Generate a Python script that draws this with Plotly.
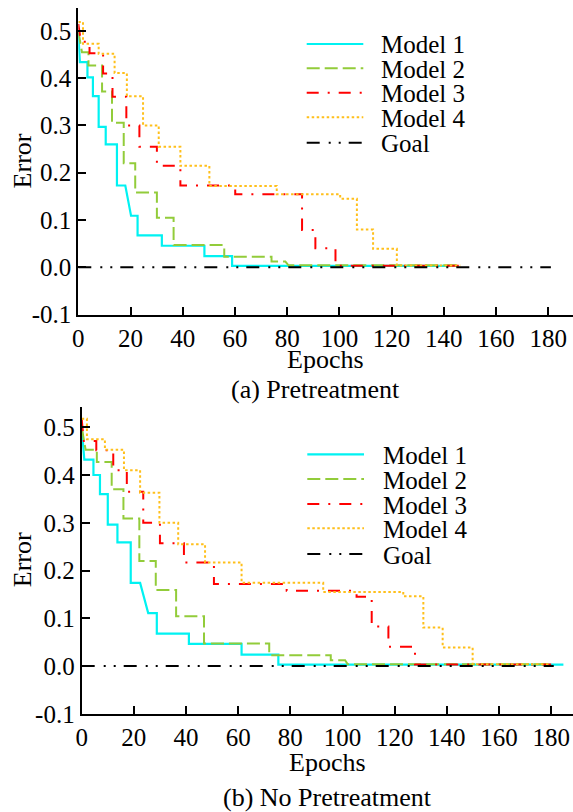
import plotly.graph_objects as go

# ---------------- data ----------------
epoch_ticks = [0, 20, 40, 60, 80, 100, 120, 140, 160, 180]
error_ticks = [-0.1, 0.0, 0.1, 0.2, 0.3, 0.4, 0.5]
error_tick_text = ["-0.1", "0.0", "0.1", "0.2", "0.3", "0.4", "0.5"]
series_names = ["Model 1", "Model 2", "Model 3", "Model 4", "Goal"]

# (a) Pretreatment
a_m1_x = [0, 0.6, 3.5, 3.5, 5.6, 5.6, 7.8, 7.8, 10.5, 10.5, 14.8, 14.8, 18.0, 20.2, 22.7, 22.7, 32.0, 32.0, 48.3, 48.3, 58.9, 58.9, 145]
a_m1_y = [0.495, 0.434, 0.434, 0.402, 0.402, 0.362, 0.362, 0.297, 0.297, 0.260, 0.260, 0.173, 0.173, 0.109, 0.109, 0.0675, 0.0675, 0.0455, 0.0455, 0.0235, 0.0235, 0.003, 0.003]

a_m2_x = [0, 1.4, 3.9, 3.9, 9.1, 9.1, 12.9, 12.9, 17.4, 17.4, 21.8, 21.8, 30.1, 30.1, 36.5, 36.5, 55.9, 55.9, 74.0, 74.0, 79.3, 80.5, 145]
a_m2_y = [0.50, 0.455, 0.455, 0.427, 0.427, 0.372, 0.372, 0.306, 0.306, 0.220, 0.220, 0.158, 0.158, 0.105, 0.105, 0.047, 0.047, 0.022, 0.022, 0.012, 0.012, 0.004, 0.004]

a_m3_x = [0, 1.0, 4.3, 4.3, 9.5, 9.5, 13.1, 13.1, 18.4, 18.4, 23.4, 23.4, 30.1, 30.1, 39.1, 39.1, 60.1, 60.1, 85.7, 85.7, 90.8, 90.8, 98.5, 98.5, 148]
a_m3_y = [0.515, 0.477, 0.477, 0.453, 0.453, 0.410, 0.410, 0.361, 0.361, 0.300, 0.300, 0.255, 0.255, 0.2146, 0.2146, 0.1728, 0.1728, 0.1545, 0.1545, 0.079, 0.079, 0.040, 0.040, 0.003, 0.003]

a_m4_x = [0, 1.8, 1.8, 7.8, 7.8, 13.9, 13.9, 18.6, 18.6, 24.8, 24.8, 30.8, 30.8, 39.1, 39.1, 50.2, 50.2, 76.0, 76.0, 100.3, 100.3, 106.7, 106.7, 112.9, 112.9, 122.0, 122.0, 146.3]
a_m4_y = [0.519, 0.519, 0.473, 0.473, 0.452, 0.452, 0.411, 0.411, 0.362, 0.362, 0.300, 0.300, 0.255, 0.255, 0.2146, 0.2146, 0.172, 0.172, 0.1545, 0.1545, 0.145, 0.145, 0.080, 0.080, 0.039, 0.039, 0.0036, 0.0036]

a_goal_x = [0, 181]
a_goal_y = [0, 0]

# (b) No Pretreatment
b_m1_x = [0, 1.0, 4.5, 4.5, 7.0, 7.0, 10.0, 10.0, 13.7, 13.7, 18.8, 18.8, 22.4, 25.5, 28.8, 28.8, 41.1, 41.1, 61.3, 61.3, 75.4, 75.4, 184.7]
b_m1_y = [0.50, 0.432, 0.432, 0.400, 0.400, 0.360, 0.360, 0.296, 0.296, 0.259, 0.259, 0.174, 0.174, 0.111, 0.111, 0.068, 0.068, 0.0466, 0.0466, 0.024, 0.024, 0.003, 0.003]

b_m2_x = [0, 1.5, 5.8, 5.8, 11.5, 11.5, 16.0, 16.0, 22.1, 22.1, 28.4, 28.4, 36.2, 36.2, 46.9, 46.9, 71.9, 71.9, 95.5, 95.5, 101.0, 102.0, 180]
b_m2_y = [0.50, 0.453, 0.453, 0.427, 0.427, 0.370, 0.370, 0.309, 0.309, 0.220, 0.220, 0.159, 0.159, 0.1045, 0.1045, 0.047, 0.047, 0.0226, 0.0226, 0.012, 0.012, 0.0035, 0.0035]

b_m3_x = [0, 0.8, 5.6, 5.6, 12.1, 12.1, 17.3, 17.3, 23.6, 23.6, 30.0, 30.0, 39.2, 39.2, 50.7, 50.7, 78.6, 78.6, 105.4, 105.4, 111.2, 111.2, 117.6, 117.6, 127.8, 127.8, 180]
b_m3_y = [0.517, 0.471, 0.471, 0.452, 0.452, 0.410, 0.410, 0.365, 0.365, 0.300, 0.300, 0.257, 0.257, 0.217, 0.217, 0.172, 0.172, 0.1575, 0.1575, 0.145, 0.145, 0.0826, 0.0826, 0.0403, 0.0403, 0.003, 0.003]

b_m4_x = [0, 2.0, 2.0, 8.9, 8.9, 16.2, 16.2, 22.4, 22.4, 29.8, 29.8, 37.0, 37.0, 47.3, 47.3, 61.3, 61.3, 92.6, 92.6, 123.3, 123.3, 131.0, 131.0, 138.4, 138.4, 149.9, 149.9, 179.6]
b_m4_y = [0.518, 0.518, 0.475, 0.475, 0.453, 0.453, 0.410, 0.410, 0.363, 0.363, 0.300, 0.300, 0.255, 0.255, 0.217, 0.217, 0.1745, 0.1745, 0.155, 0.155, 0.146, 0.146, 0.0805, 0.0805, 0.039, 0.039, 0.0036, 0.0036]

b_goal_x = [0, 181]
b_goal_y = [0, 0]

panel_titles = ["(a) Pretreatment", "(b) No Pretreatment"]
x_title = "Epochs"
y_title = "Error"

# ---------------- styles ----------------
W, H = 573, 812
FONT = "Liberation Serif"
FS = 25
FS_TITLE = 26
styles = [
    dict(color="#00F2F2", width=2.2, dash="solid"),
    dict(color="#92CC3A", width=2, dash="13px,5px"),
    dict(color="#FF0000", width=2, dash="12px,9px,2px,9px"),
    dict(color="#FFBF1A", width=2, dash="2.5px,2.5px"),
    dict(color="#000000", width=2, dash="13px,9px,2px,8px,2px,8px"),
]

def px_x(p):
    return p / W

def px_y(p):
    return 1 - p / H

fig = go.Figure()

panels = [
    dict(xs=[a_m1_x, a_m2_x, a_m3_x, a_m4_x, a_goal_x], ys=[a_m1_y, a_m2_y, a_m3_y, a_m4_y, a_goal_y],
         xa="x", ya="y", left=78.3, top=8.3, bottom=314.5, xscale=2.611, ytop=0.548,
         leg_x0=306.7, leg_x1=363.3, leg_tx=379, leg_rows=[44, 68.3, 92.7, 117.3, 142.7],
         xtitle_y=359, cap_x=315, cap_y=389),
    dict(xs=[b_m1_x, b_m2_x, b_m3_x, b_m4_x, b_goal_x], ys=[b_m1_y, b_m2_y, b_m3_y, b_m4_y, b_goal_y],
         xa="x2", ya="y2", left=81.7, top=406.7, bottom=713.8, xscale=2.608, ytop=0.543,
         leg_x0=307.3, leg_x1=364, leg_tx=381, leg_rows=[454.3, 479, 504, 528.3, 554],
         xtitle_y=762, cap_x=327, cap_y=797),
]

annotations = []
shapes = []
for i, p in enumerate(panels):
    for name, xs, ys, st in zip(series_names, p["xs"], p["ys"], styles):
        fig.add_trace(go.Scatter(x=xs, y=ys, mode="lines", name=name, xaxis=p["xa"], yaxis=p["ya"],
                                 line=dict(color=st["color"], width=st["width"], dash=st["dash"]),
                                 showlegend=False, hoverinfo="skip"))
    xkey = "xaxis" if i == 0 else "xaxis2"
    ykey = "yaxis" if i == 0 else "yaxis2"
    axis_common = dict(showline=True, linecolor="black", linewidth=2, ticks="inside", ticklen=8,
                       tickwidth=2, tickcolor="black", showgrid=False, zeroline=False, automargin=False,
                       tickfont=dict(family=FONT, size=FS, color="black"))
    fig.update_layout(**{
        xkey: dict(domain=[px_x(p["left"]), 1], range=[0, (W - p["left"]) / p["xscale"]],
                   tickvals=epoch_ticks, anchor=p["ya"], **axis_common),
        ykey: dict(domain=[px_y(p["bottom"]), px_y(p["top"])], range=[-0.1, p["ytop"]],
                   tickvals=error_ticks, ticktext=error_tick_text, anchor=p["xa"], **axis_common),
    })
    cx = (p["left"] + W) / 2
    cy = (p["top"] + p["bottom"]) / 2
    annotations.append(dict(text=x_title, x=px_x(cx), y=px_y(p["xtitle_y"]), xref="paper", yref="paper",
                            showarrow=False, xanchor="center", yanchor="middle",
                            font=dict(family=FONT, size=FS_TITLE, color="black")))
    annotations.append(dict(text=panel_titles[i], x=px_x(p["cap_x"]), y=px_y(p["cap_y"]), xref="paper", yref="paper",
                            showarrow=False, xanchor="center", yanchor="middle",
                            font=dict(family=FONT, size=FS_TITLE, color="black")))
    annotations.append(dict(text=y_title, x=px_x(22), y=px_y(cy), xref="paper", yref="paper", textangle=-90,
                            showarrow=False, xanchor="center", yanchor="middle",
                            font=dict(family=FONT, size=FS_TITLE, color="black")))
    # legend
    for name, st, row in zip(series_names, styles, p["leg_rows"]):
        shapes.append(dict(type="line", xref="paper", yref="paper",
                           x0=px_x(p["leg_x0"]), x1=px_x(p["leg_x1"]), y0=px_y(row), y1=px_y(row),
                           line=dict(color=st["color"], width=st["width"], dash=st["dash"])))
        annotations.append(dict(text=name, x=px_x(p["leg_tx"]), y=px_y(row + 1), xref="paper", yref="paper",
                                showarrow=False, xanchor="left", yanchor="middle",
                                font=dict(family=FONT, size=FS, color="black")))

fig.update_layout(width=W, height=H, autosize=False, margin=dict(l=0, r=0, t=0, b=0),
                  paper_bgcolor="white", plot_bgcolor="white", showlegend=False,
                  annotations=annotations, shapes=shapes)

# remove the browser's default 8px page margin so the figure fills the window exactly
fig.write_html("out.html", config={"displayModeBar": False},
               post_script="document.body.style.margin='0';document.body.style.overflow='hidden';")
